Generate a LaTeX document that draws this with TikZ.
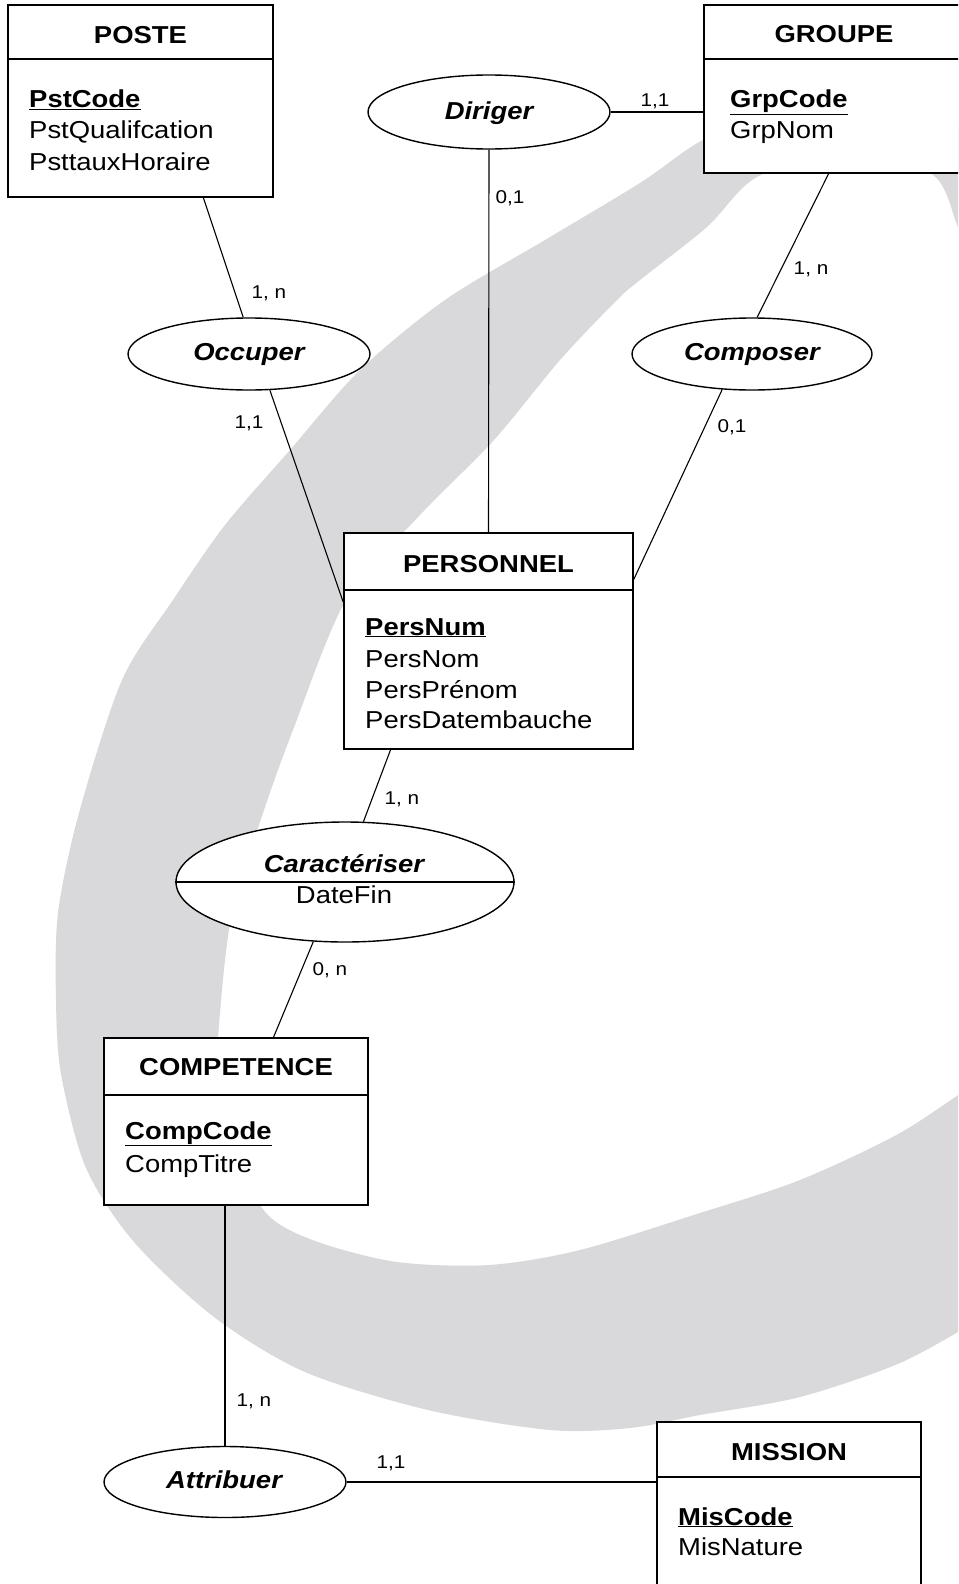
\documentclass[tikz,border=0pt]{standalone}
\usepackage{fontspec}
\setmainfont{Liberation Sans}[FakeStretch=1.12]
\usetikzlibrary{shapes.geometric}
\definecolor{wmgray}{RGB}{217,217,219}
\newcommand\keyattr[1]{\underline{\textbf{#1}}}
\begin{document}
\begin{tikzpicture}[x=1pt,y=-1pt,
  entity/.style={draw, line width=1.6pt, fill=white, inner sep=0pt},
  relation/.style={ellipse, draw, line width=1.4pt, fill=white, inner sep=0pt},
  link/.style={line width=1.1pt},
  hline/.style={line width=1.6pt},
  ttl/.style={anchor=base, inner sep=0pt, font=\fontsize{24.5}{29}\selectfont\bfseries},
  attr/.style={anchor=base west, inner sep=0pt, font=\fontsize{24.5}{29}\selectfont},
  rname/.style={anchor=base, inner sep=0pt, font=\fontsize{24.5}{29}\selectfont\bfseries\itshape},
  rattr/.style={anchor=base, inner sep=0pt, font=\fontsize{24.5}{29}\selectfont},
  card/.style={inner sep=0pt, font=\fontsize{18.5}{22}\selectfont},
]
\useasboundingbox (0,0) rectangle (958,1584);
\fill[white] (0,0) rectangle (958,1584);
\begin{scope}
\clip (0,0) rectangle (958,1584);
% watermark swoosh
\fill[wmgray] plot[smooth] coordinates {(975,125) (850,118) (760,125) (703,140) (640,183) (545,240) (445,300) (360,370) (290,450) (225,525) (173,600) (122,680) (79,813) (58,913) (56,1000) (61,1074) (86,1168) (134,1242) (214,1317) (305,1372) (428,1410) (550,1430) (630,1428) (700,1415) (800,1397) (900,1363) (975,1322)}
  -- plot[smooth] coordinates {(975,1083) (900,1133) (800,1180) (700,1213) (580,1250) (489,1265) (397,1262) (318,1242) (269,1216) (235,1160) (218,1080) (220,1013) (232,913) (263,813) (293,730) (346,600) (420,515) (494,440) (560,360) (617,300) (640,280) (707,227) (757,177) (850,148) (933,175) (958,227) (975,262)}
  -- cycle;
% MISSION box (runs off the bottom)
\node[entity, minimum width=264pt, minimum height=218pt] (mis) at (789,1531) {};
\draw[hline] ([yshift=-56pt]mis.north west) -- ([yshift=-56pt]mis.north east);
% GROUPE box (runs off the right edge)
\node[entity, minimum width=258pt, minimum height=168pt] (grp) at (833,89) {};
\draw[hline] ([yshift=-55pt]grp.north west) -- ([yshift=-55pt]grp.north east);
\end{scope}

% entities
\node[entity, minimum width=265pt, minimum height=192pt] (poste) at (140.5,101) {};
\draw[hline] ([yshift=-55pt]poste.north west) -- ([yshift=-55pt]poste.north east);
\node[entity, minimum width=289pt, minimum height=216pt] (pers) at (488.5,641) {};
\draw[hline] ([yshift=-58pt]pers.north west) -- ([yshift=-58pt]pers.north east);
\node[entity, minimum width=264pt, minimum height=167pt] (comp) at (236,1121.5) {};
\draw[hline] ([yshift=-58pt]comp.north west) -- ([yshift=-58pt]comp.north east);

% relations
\node[relation, minimum width=242pt, minimum height=74pt] (dir) at (489,112) {};
\node[relation, minimum width=242pt, minimum height=72pt] (occ) at (249,354) {};
\node[relation, minimum width=240pt, minimum height=72pt] (cps) at (752,354) {};
\node[relation, minimum width=338pt, minimum height=120pt] (car) at (345,882) {};
\draw[line width=1.4pt] (car.west) -- (car.east);
\node[relation, minimum width=242pt, minimum height=71pt] (att) at (225,1482) {};

% connectors
\draw[link] (poste.-57.8) -- (occ.99.5);
\draw[link] (occ.-60.3) -- (pers.165.3);
\draw[link] (dir.south) -- (pers.north);
\draw[link] (dir.east) -- (dir.east -| grp.west);
\draw[link] (grp.-93.6) -- (cps.82.1);
\draw[link] (cps.230.4) -- (pers.23);
\draw[link] (pers.228.5) -- (car.73.3);
\draw[link] (car.-118.1) -- (comp.66.1);
\draw[link] (att.north |- comp.south) -- (att.north);
\draw[link] (att.east) -- (att.east -| mis.west);

% entity texts
\node[ttl] (tposte) at (140.5,43.5) {POSTE};
\node[attr] (a1) at (29,108) {\keyattr{PstCode}};
\node[attr] (a2) at (29,139) {PstQualifcation};
\node[attr] (a3) at (29,170) {PsttauxHoraire};

\node[ttl] (tgrp) at (834,43) {GROUPE};
\node[attr] (a4) at (730,108) {\keyattr{GrpCode}};
\node[attr] (a5) at (730,139) {GrpNom};

\node[ttl] (tpers) at (488.5,572) {PERSONNEL};
\node[attr] (a6) at (365,635) {\keyattr{PersNum}};
\node[attr] (a7) at (365,667) {PersNom};
\node[attr] (a8) at (365,698) {PersPrénom};
\node[attr] (a9) at (365,728) {PersDatembauche};

\node[ttl] (tcomp) at (236,1075) {COMPETENCE};
\node[attr] (a10) at (125,1139) {\keyattr{CompCode}};
\node[attr] (a11) at (125,1172) {CompTitre};

\node[ttl] (tmis) at (789,1460) {MISSION};
\node[attr] (a12) at (678,1525) {\keyattr{MisCode}};
\node[attr] (a13) at (678,1555) {MisNature};

% relation texts
\node[rname] (tdir) at (489,120) {Diriger};
\node[rname] (tocc) at (249,360) {Occuper};
\node[rname] (tcps) at (752,360) {Composer};
\node[rname] (tcar) at (344,872) {Caractériser};
\node[rattr] (tdf) at (344,903) {DateFin};
\node[rname] (tatt) at (224,1488) {Attribuer};

% cardinalities
\node[card] (l1) at (269,293) {1, n};
\node[card] (l2) at (249,423) {1,1};
\node[card] (l3) at (510,198) {0,1};
\node[card] (l4) at (655,101) {1,1};
\node[card] (l5) at (811,269) {1, n};
\node[card] (l6) at (732,427) {0,1};
\node[card] (l7) at (402,799) {1, n};
\node[card] (l8) at (330,970) {0, n};
\node[card] (l9) at (254,1401) {1, n};
\node[card] (l10) at (391,1463) {1,1};
\end{tikzpicture}
\end{document}
